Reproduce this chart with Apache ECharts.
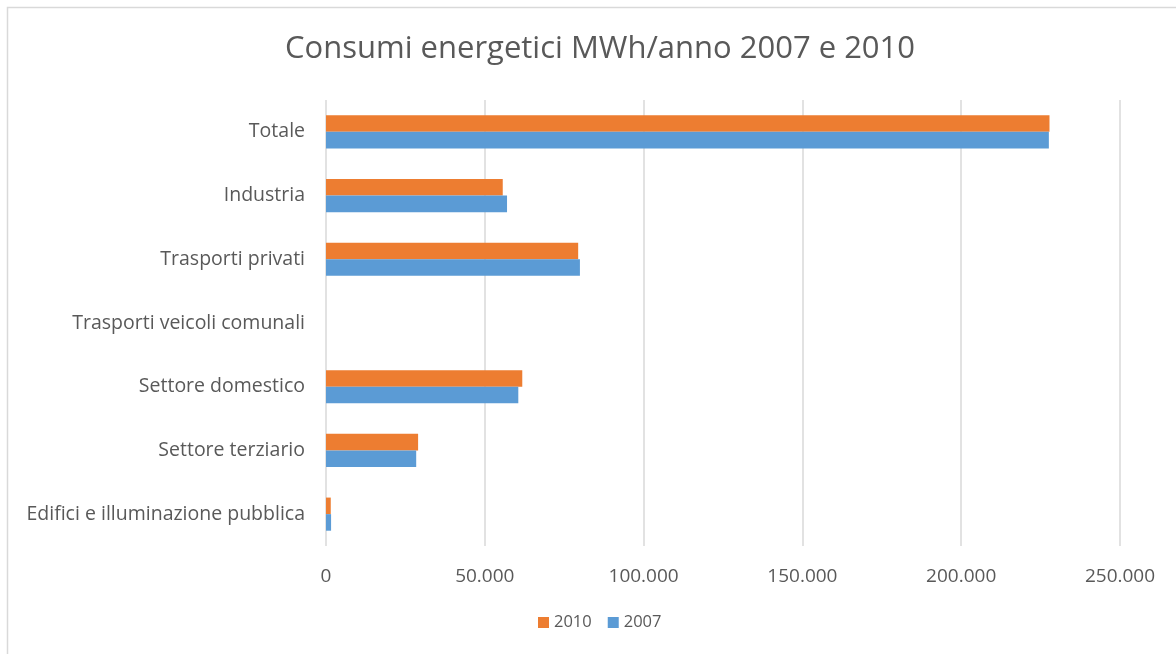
<!DOCTYPE html>
<html>
<head>
<meta charset="utf-8">
<script src="https://cdn.jsdelivr.net/npm/echarts@6/dist/echarts.min.js"></script>
<style>
html, body { margin: 0; padding: 0; background: #fff; }
#myChart { width: 1176px; height: 654px; }
</style>
</head>
<body>
<div id="myChart"></div>
<script>
// categories, top to bottom
var categories = [
    'Totale',
    'Industria',
    'Trasporti privati',
    'Trasporti veicoli comunali',
    'Settore domestico',
    'Settore terziario',
    'Edifici e illuminazione pubblica'
]
var values2010 = [227800, 55650, 79400, 0, 61800, 29000, 1500]
var values2007 = [227600, 57000, 79950, 0, 60550, 28400, 1600]
var xTicks = [0, 50000, 100000, 150000, 200000, 250000]

var textColor = '#595959'
var fontName = 'Open Sans'

function fmt(v) {
    return String(v).replace(/\B(?=(\d{3})+(?!\d))/g, '.')
}

var myChart = echarts.init(document.getElementById('myChart'))
myChart.setOption({
    backgroundColor: '#fff',
    animation: false,
    graphic: [{
        type: 'rect',
        shape: { x: 7.5, y: 7.5, width: 1300, height: 800 },
        style: { fill: 'none', stroke: '#d9d9d9', lineWidth: 1.5 },
        silent: true
    }],
    title: {
        text: 'Consumi energetici MWh/anno 2007 e 2010',
        left: 280,
        top: 29,
        textStyle: {
            color: textColor,
            fontFamily: fontName,
            fontWeight: 'normal',
            fontSize: 31
        }
    },
    legend: {
        data: ['2010', '2007'],
        bottom: 18,
        left: 533,
        icon: 'rect',
        itemWidth: 11,
        itemHeight: 11,
        itemGap: 16,
        textStyle: {
            color: textColor,
            fontFamily: fontName,
            fontSize: 16.5
        }
    },
    grid: {
        left: 326,
        right: 56,
        top: 100,
        bottom: 108,
        containLabel: false
    },
    xAxis: {
        type: 'value',
        min: 0,
        max: xTicks[xTicks.length - 1],
        interval: 50000,
        axisLine: { show: false },
        axisTick: { show: false },
        splitLine: { lineStyle: { color: '#d9d9d9', width: 1.5 } },
        axisLabel: {
            color: textColor,
            fontFamily: fontName,
            fontSize: 19,
            margin: 21,
            formatter: function(v) { return fmt(v) }
        }
    },
    yAxis: {
        type: 'category',
        inverse: true,
        data: categories,
        axisLine: { show: false },
        axisTick: { show: false },
        axisLabel: {
            color: textColor,
            fontFamily: fontName,
            fontSize: 19.5,
            margin: 21
        }
    },
    series: [{
        name: '2010',
        type: 'bar',
        data: values2010,
        barGap: '0%',
        barCategoryGap: '48%',
        itemStyle: { color: '#ED7D31' }
    }, {
        name: '2007',
        type: 'bar',
        data: values2007,
        itemStyle: { color: '#5B9BD5' }
    }]
})
</script>
</body>
</html>
